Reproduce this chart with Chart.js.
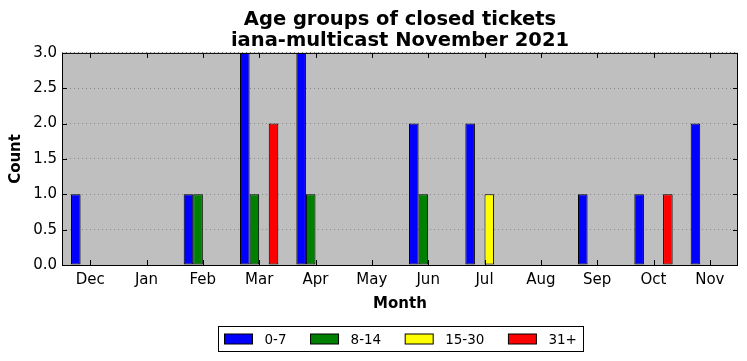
<!DOCTYPE html>
<html lang="en">
<head>
    <meta charset="UTF-8">
    <title>Age groups of closed tickets</title>
    <script src="https://cdn.jsdelivr.net/npm/chart.js@4/dist/chart.umd.min.js"></script>
    <style>
        html, body { margin: 0; padding: 0; background: #fff; }
        #wrap { width: 747px; height: 361px; }
    </style>
</head>
<body>
    <div id="wrap"><canvas id="ageChart" width="747" height="361"></canvas></div>

    <script>
        const months = ["Dec", "Jan", "Feb", "Mar", "Apr", "May", "Jun", "Jul", "Aug", "Sep", "Oct", "Nov"];
        const age0to7   = [1, 0, 1, 3, 3, 0, 2, 2, 0, 1, 1, 2];
        const age8to14  = [0, 0, 1, 1, 1, 0, 1, 0, 0, 0, 0, 0];
        const age15to30 = [0, 0, 0, 0, 0, 0, 0, 1, 0, 0, 0, 0];
        const age31plus = [0, 0, 0, 2, 0, 0, 0, 0, 0, 0, 1, 0];
        const yTicks = [0, 0.5, 1, 1.5, 2, 2.5, 3];

        const FONT = "'DejaVu Sans', sans-serif";

        function series(label, data, color) {
            return {
                label: label,
                data: data,
                backgroundColor: color,
                borderColor: "#000",
                borderWidth: 1,
                borderSkipped: false,
                categoryPercentage: 0.68,
                barPercentage: 1.0
            };
        }

        // gray plot background, frame, inward ticks and boxed legend
        const mplLook = {
            id: "mplLook",
            beforeDraw(chart) {
                const a = chart.chartArea, c = chart.ctx;
                c.save();
                c.fillStyle = "#bfbfbf";
                c.fillRect(a.left, a.top, a.right - a.left, a.bottom - a.top);
                c.restore();
            },
            afterDraw(chart) {
                const a = chart.chartArea, c = chart.ctx;
                const xs = chart.scales.x, ys = chart.scales.y;
                c.save();
                c.strokeStyle = "#000";
                c.lineWidth = 1;
                c.beginPath();
                xs.ticks.forEach((t, i) => {
                    const px = Math.round(xs.getPixelForTick(i)) + 0.5;
                    c.moveTo(px, a.bottom); c.lineTo(px, a.bottom - 5);
                    c.moveTo(px, a.top); c.lineTo(px, a.top + 5);
                });
                yTicks.forEach(v => {
                    const py = Math.round(ys.getPixelForValue(v)) + 0.5;
                    c.moveTo(a.left, py); c.lineTo(a.left + 5, py);
                    c.moveTo(a.right, py); c.lineTo(a.right - 5, py);
                });
                c.stroke();
                c.strokeRect(a.left + 0.5, a.top + 0.5, a.right - a.left - 1, a.bottom - a.top);

                // legend
                c.font = "13.5px " + FONT;
                c.textBaseline = "middle";
                const sw = 28, gapText = 12, gapItem = 24;
                const items = chart.data.datasets.map(d => ({ label: d.label, color: d.backgroundColor, w: c.measureText(d.label).width }));
                let total = 0;
                items.forEach((it, i) => { total += sw + gapText + it.w + (i < items.length - 1 ? gapItem : 0); });
                const padL = 6, padR = 7;
                const boxW = Math.round(total + padL + padR);
                const cx = (a.left + a.right) / 2;
                const bx = Math.round(cx - boxW / 2) + 0.5, by = 326.5, bh = 25;
                c.fillStyle = "#fff";
                c.fillRect(bx, by, boxW, bh);
                c.strokeStyle = "#000";
                c.strokeRect(bx, by, boxW, bh);
                let x = bx + padL;
                const my = by + bh / 2;
                items.forEach(it => {
                    c.fillStyle = it.color;
                    c.fillRect(x, my - 5, sw, 10);
                    c.strokeStyle = "#000";
                    c.strokeRect(x, my - 5, sw, 10);
                    c.fillStyle = "#000";
                    c.fillText(it.label, x + sw + gapText, my + 1);
                    x += sw + gapText + it.w + gapItem;
                });
                c.restore();
            }
        };

        const ctx = document.getElementById("ageChart").getContext("2d");
        new Chart(ctx, {
            type: "bar",
            data: {
                labels: months,
                datasets: [
                    series("0-7", age0to7, "#0000ff"),
                    series("8-14", age8to14, "#008000"),
                    series("15-30", age15to30, "#ffff00"),
                    series("31+", age31plus, "#ff0000")
                ]
            },
            options: {
                responsive: false,
                animation: false,
                layout: { padding: { left: 0, right: 9, top: 0, bottom: 46 } },
                plugins: {
                    legend: { display: false },
                    tooltip: { enabled: false },
                    title: {
                        display: true,
                        fullSize: false,
                        text: ["Age groups of closed tickets", "iana-multicast November 2021"],
                        color: "#000",
                        font: { family: FONT, size: 19.5, weight: "bold", lineHeight: 1.1 },
                        padding: { top: 9, bottom: 1 }
                    }
                },
                scales: {
                    x: {
                        offset: true,
                        grid: { display: false, drawTicks: false },
                        border: { display: false },
                        ticks: { color: "#000", font: { family: FONT, size: 15 }, padding: 6, maxRotation: 0 },
                        title: {
                            display: true, text: "Month", color: "#000",
                            font: { family: FONT, size: 15, weight: "bold" },
                            padding: { top: 0, bottom: 2 }
                        },
                        afterFit(s) { s.height = 50; }
                    },
                    y: {
                        min: 0, max: 3,
                        afterBuildTicks(s) { s.ticks = yTicks.map(v => ({ value: v })); },
                        grid: { color: "#8a8a8a", lineWidth: 1, drawTicks: false },
                        border: { display: false, dash: [1, 3] },
                        ticks: {
                            color: "#000", font: { family: FONT, size: 15 }, padding: 5,
                            callback: v => Number(v).toFixed(1)
                        },
                        title: {
                            display: true, text: "Count", color: "#000",
                            font: { family: FONT, size: 15, weight: "bold" },
                            padding: { top: 7, bottom: 0 }
                        },
                        afterFit(s) { s.width = 62; }
                    }
                }
            },
            plugins: [mplLook]
        });
    </script>
</body>
</html>
